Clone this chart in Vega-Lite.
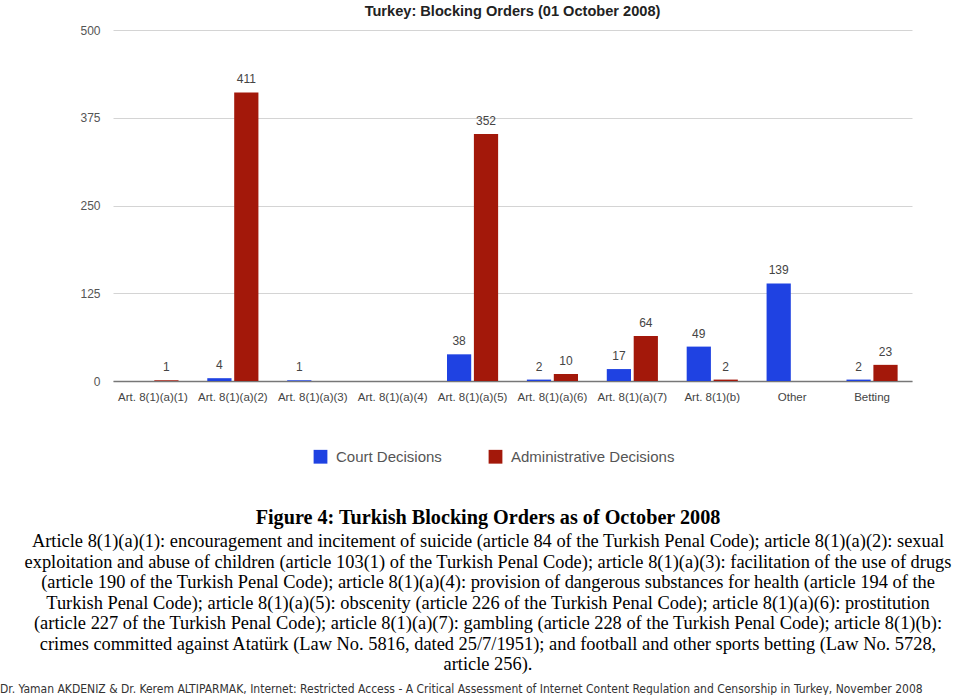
{
  "$schema": "https://vega.github.io/schema/vega-lite/v6.json",
  "padding": {"top": 4, "left": 0, "right": -16, "bottom": 0},
  "background": "white",
  "config": {"view": {"stroke": null}, "font": "Liberation Sans", "legend": {"layout": {"bottom": {"anchor": "middle"}}}},
  "resolve": {"scale": {"color": "independent"}, "legend": {"color": "independent"}},
  "title": {
    "text": "Dr. Yaman AKDENIZ & Dr. Kerem ALTIPARMAK, Internet: Restricted Access - A Critical Assessment of Internet Content Regulation and Censorship in Turkey, November 2008",
    "orient": "bottom",
    "anchor": "start",
    "frame": "bounds",
    "font": "DejaVu Sans Condensed",
    "fontSize": 12,
    "fontWeight": "normal",
    "color": "#333",
    "offset": 10
  },
  "vconcat": [
    {
      "resolve": {"scale": {"color": "independent"}, "legend": {"color": "independent"}},
      "title": {
        "text": "Figure 4: Turkish Blocking Orders as of October 2008",
        "subtitle": [
          "Article 8(1)(a)(1): encouragement and incitement of suicide (article 84 of the Turkish Penal Code); article 8(1)(a)(2): sexual",
          "exploitation and abuse of children (article 103(1) of the Turkish Penal Code); article 8(1)(a)(3): facilitation of the use of drugs",
          "(article 190 of the Turkish Penal Code); article 8(1)(a)(4): provision of dangerous substances for health (article 194 of the",
          "Turkish Penal Code); article 8(1)(a)(5): obscenity (article 226 of the Turkish Penal Code); article 8(1)(a)(6): prostitution",
          "(article 227 of the Turkish Penal Code); article 8(1)(a)(7): gambling (article 228 of the Turkish Penal Code); article 8(1)(b):",
          "crimes committed against Atatürk (Law No. 5816, dated 25/7/1951); and football and other sports betting (Law No. 5728,",
          "article 256)."
        ],
        "orient": "bottom",
        "anchor": "middle",
        "frame": "bounds",
        "font": "Liberation Serif",
        "fontSize": 20.2,
        "fontWeight": "bold",
        "color": "#000",
        "subtitleFont": "Liberation Serif",
        "subtitleFontSize": 18.4,
        "subtitleColor": "#000",
        "subtitleLineHeight": 20.5,
        "subtitlePadding": 4,
        "offset": 43
      },
      "vconcat": [
        {
          "width": 799,
          "height": 351,
          "title": {
            "text": "Turkey: Blocking Orders (01 October 2008)",
            "fontSize": 14.6,
            "fontWeight": "bold",
            "color": "#222",
            "anchor": "middle",
            "frame": "group",
            "offset": 5
          },
          "data": {
            "values": [
              {"article": "Art. 8(1)(a)(1)", "type": "Administrative Decisions", "count": 1},
              {"article": "Art. 8(1)(a)(2)", "type": "Court Decisions", "count": 4},
              {"article": "Art. 8(1)(a)(2)", "type": "Administrative Decisions", "count": 411},
              {"article": "Art. 8(1)(a)(3)", "type": "Court Decisions", "count": 1},
              {"article": "Art. 8(1)(a)(5)", "type": "Court Decisions", "count": 38},
              {"article": "Art. 8(1)(a)(5)", "type": "Administrative Decisions", "count": 352},
              {"article": "Art. 8(1)(a)(6)", "type": "Court Decisions", "count": 2},
              {"article": "Art. 8(1)(a)(6)", "type": "Administrative Decisions", "count": 10},
              {"article": "Art. 8(1)(a)(7)", "type": "Court Decisions", "count": 17},
              {"article": "Art. 8(1)(a)(7)", "type": "Administrative Decisions", "count": 64},
              {"article": "Art. 8(1)(b)", "type": "Court Decisions", "count": 49},
              {"article": "Art. 8(1)(b)", "type": "Administrative Decisions", "count": 2},
              {"article": "Other", "type": "Court Decisions", "count": 139},
              {"article": "Betting", "type": "Court Decisions", "count": 2},
              {"article": "Betting", "type": "Administrative Decisions", "count": 23}
            ]
          },
          "resolve": {"axis": {"y": "independent"}},
          "encoding": {
            "x": {
              "field": "article",
              "type": "nominal",
              "scale": {
                "domain": ["Art. 8(1)(a)(1)", "Art. 8(1)(a)(2)", "Art. 8(1)(a)(3)", "Art. 8(1)(a)(4)", "Art. 8(1)(a)(5)", "Art. 8(1)(a)(6)", "Art. 8(1)(a)(7)", "Art. 8(1)(b)", "Other", "Betting"],
                "paddingInner": 0.36,
                "paddingOuter": 0.18
              },
              "axis": {
                "title": null,
                "labelAngle": 0,
                "labelFontSize": 11.5,
                "labelColor": "#444",
                "ticks": false,
                "domainColor": "#777",
                "domainWidth": 1.5,
                "labelPadding": 10
              }
            },
            "xOffset": {
              "field": "type",
              "type": "nominal",
              "scale": {"domain": ["Court Decisions", "Administrative Decisions"], "paddingInner": 0.1}
            }
          },
          "layer": [
            {
              "mark": {"type": "bar"},
              "encoding": {
                "y": {
                  "field": "count",
                  "type": "quantitative",
                  "scale": {"domain": [0, 500]},
                  "axis": {
                    "values": [0, 125, 250, 375, 500],
                    "title": null,
                    "ticks": false,
                    "domain": false,
                    "gridColor": "#d4d4d4",
                    "labelColor": "#555",
                    "labelFontSize": 12,
                    "labelPadding": 13,
                    "minExtent": 113
                  }
                },
                "color": {
                  "field": "type",
                  "type": "nominal",
                  "scale": {"domain": ["Court Decisions", "Administrative Decisions"], "range": ["#1f42e2", "#a3180a"]},
                  "legend": {
                    "orient": "none",
                    "legendX": 200,
                    "legendY": 419,
                    "direction": "horizontal",
                    "title": null,
                    "symbolType": "square",
                    "symbolSize": 190,
                    "symbolStrokeWidth": 0,
                    "labelFontSize": 15,
                    "labelColor": "#555",
                    "labelOffset": 8,
                    "labelLimit": 400,
                    "columnPadding": 46
                  }
                }
              }
            },
            {
              "mark": {"type": "text", "baseline": "bottom", "dy": -6, "fontSize": 12, "color": "#444"},
              "encoding": {
                "y": {
                  "field": "count",
                  "type": "quantitative",
                  "axis": {
                    "orient": "right",
                    "title": null,
                    "labels": false,
                    "ticks": false,
                    "domain": false,
                    "grid": false,
                    "minExtent": 64
                  }
                },
                "text": {"field": "count", "type": "quantitative"}
              }
            }
          ]
        }
      ]
    }
  ]
}
